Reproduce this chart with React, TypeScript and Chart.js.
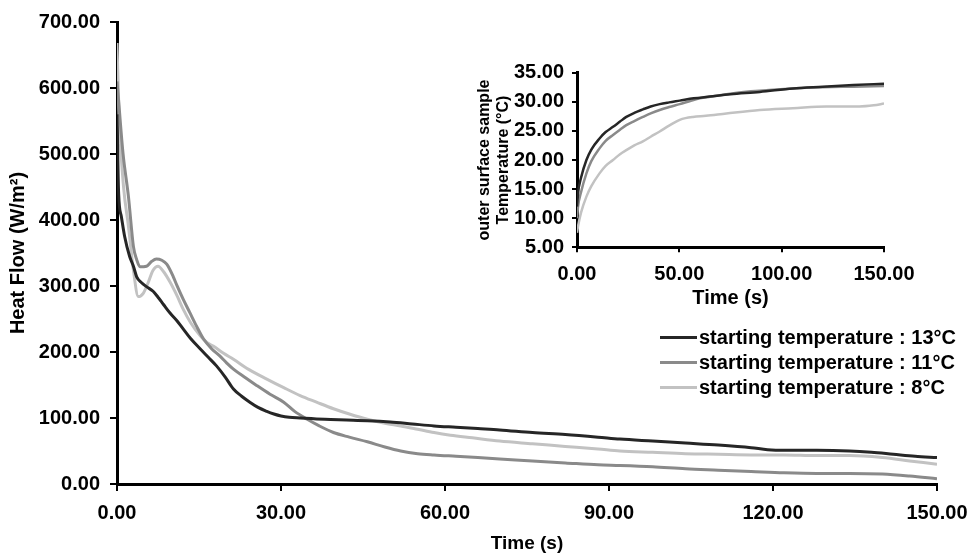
import React, { useEffect, useRef } from "react";
import { Chart, registerables } from "chart.js";

Chart.register(...registerables);

// ---------- Data ----------
const SERIES_LABELS = [
  "starting temperature : 13°C",
  "starting temperature : 11°C",
  "starting temperature : 8°C",
];
const SERIES_COLORS = ["#262626", "#8a8a8a", "#c2c2c2"];

// Main chart: heat flow (W/m²) vs time (s)
const HF13_T = [0, 0.3, 0.8, 1.4, 2.3, 3.0, 3.6, 4.5, 5.4, 6.6, 7.5, 8.5, 9.7, 11, 12.1, 13.5, 15.2, 16.7, 18.2, 19.8, 21.3, 22.8, 24.3, 25.8, 27.4, 28.7, 30, 31.5, 33.5, 38, 42, 45.8, 50, 54, 58, 62, 66, 70, 76, 82, 88, 92, 98, 104, 110, 116, 119, 122, 128, 134, 138, 142, 146, 150];
const HF13_V = [560, 440, 405, 375, 345, 330, 314, 305, 299, 292, 283, 272, 259, 247, 235, 220, 205, 192, 179, 162, 144, 133, 124, 116, 110, 106, 103, 101, 100, 98, 97, 96, 94, 91, 88, 86, 84, 82, 78, 75, 71, 68, 65, 62, 59, 55, 52, 51, 51, 50, 48, 45, 42, 40];

const HF11_T = [0, 0.3, 1.1, 2.1, 3.0, 3.6, 4.2, 5.4, 6.3, 7.2, 8.2, 9.1, 10.3, 10.9, 12.1, 13.3, 14.5, 15.8, 17.3, 18.8, 20, 21.3, 23.5, 25.6, 28, 30.5, 32.5, 34.8, 37, 39.6, 42.5, 45.8, 49, 51.9, 55, 58, 62, 66, 70, 76, 82, 88, 92, 98, 104, 110, 116, 122, 128, 134, 140, 145, 150];
const HF11_V = [610, 580, 501, 435, 360, 340, 329, 330, 337, 341, 339, 333, 314, 302, 280, 260, 240, 220, 205, 194, 184, 174, 161, 149, 136, 124, 110, 98, 88, 78, 71, 64, 56, 50, 46, 44, 42, 40, 38, 35, 32, 29, 28, 26, 23, 21, 19, 17, 16, 16, 15, 12, 8];

const HF8_T = [0, 0.4, 1.2, 2.1, 3.0, 3.9, 4.8, 5.6, 6.6, 7.5, 8.5, 9.7, 11, 12.1, 13.5, 15.2, 16.5, 17.6, 19.5, 21.3, 24, 27.4, 30.5, 33.5, 36.5, 39.6, 42.5, 45.8, 49, 51.9, 55, 58, 61, 65, 70, 76, 82, 88, 92, 98, 104, 110, 116, 122, 128, 134, 140, 145, 150];
const HF8_V = [668, 552, 450, 390, 324, 284, 289, 303, 324, 330, 322, 306, 285, 265, 244, 225, 214, 209, 198, 189, 174, 159, 146, 134, 124, 114, 106, 98, 92, 88, 83, 78, 74, 70, 65, 61, 57, 53, 50, 48, 46, 45, 44, 44, 43, 43, 40, 35, 30];

const HEAT_TICKS = [0, 100, 200, 300, 400, 500, 600, 700];
const TIME_TICKS = [0, 30, 60, 90, 120, 150];

// Inset: outer surface sample temperature (°C) vs time (s)
const T13_T = [0, 0.5, 2, 4.6, 7, 11, 14, 17.6, 21, 24.1, 28, 32.2, 36, 40.4, 45, 50.2, 57, 64.8, 75, 89.3, 105.5, 120, 135, 150];
const T13_V = [12, 14.3, 17, 20.0, 21.8, 23.7, 24.8, 25.7, 26.6, 27.4, 28.1, 28.7, 29.2, 29.6, 29.9, 30.2, 30.6, 30.9, 31.3, 31.7, 32.3, 32.6, 32.9, 33.1];

const T11_T = [0, 0.5, 2, 4.6, 7, 11, 14, 17.6, 21, 24.1, 28, 32.2, 36, 40.4, 45, 50.2, 55, 60, 66, 73, 85, 105.5, 120, 135, 150];
const T11_V = [10, 12.0, 14.5, 17.7, 19.8, 22.0, 23.3, 24.3, 25.2, 26.0, 26.7, 27.4, 28.0, 28.6, 29.1, 29.6, 30.1, 30.6, 30.9, 31.3, 31.8, 32.3, 32.5, 32.6, 32.7];

const T8_T = [0, 0.5, 2, 4.6, 7, 11, 14, 17.6, 21, 24.1, 28, 32.2, 36, 40.4, 45, 50.2, 53, 56.7, 63, 73, 89.3, 105.5, 121.8, 138, 145, 150];
const T8_V = [7.5, 8.6, 11, 13.7, 15.5, 17.7, 19.0, 20.0, 21.0, 21.7, 22.5, 23.2, 24.0, 24.9, 25.9, 26.9, 27.2, 27.4, 27.6, 28.0, 28.6, 28.9, 29.2, 29.2, 29.4, 29.7];

const TEMP_TICKS = [5, 10, 15, 20, 25, 30, 35];
const INSET_TIME_TICKS = [0, 50, 100, 150];

// ---------- Helpers ----------
const FONT = '"Liberation Sans", Arial, Helvetica, sans-serif';
const pts = (t: number[], v: number[]) => t.map((x, i) => ({ x, y: v[i] }));
const fmt = (v: any) => Number(v).toFixed(2);

function makeDatasets(pairs: [number[], number[]][], width: number) {
  return pairs.map(([t, v], i) => ({
    label: SERIES_LABELS[i],
    data: pts(t, v),
    borderColor: SERIES_COLORS[i],
    backgroundColor: SERIES_COLORS[i],
    borderWidth: width,
    pointRadius: 0,
    cubicInterpolationMode: "monotone" as const,
    fill: false,
  }));
}

function axis(opts: {
  min: number; max: number; ticks: number[]; tickLen: number; pad: number;
  title: string | string[]; titleSize: number; titlePad: any; afterFit: (s: any) => void;
}) {
  return {
    type: "linear" as const,
    min: opts.min,
    max: opts.max,
    afterBuildTicks: (s: any) => { s.ticks = opts.ticks.map((value) => ({ value })); },
    afterFit: opts.afterFit,
    ticks: {
      callback: fmt,
      color: "#000",
      font: { family: FONT, size: 20, weight: "bold" as const },
      padding: opts.pad,
      maxRotation: 0,
      autoSkip: false,
    },
    grid: { drawOnChartArea: false, drawTicks: true, tickLength: opts.tickLen, color: "#000", lineWidth: 2 },
    border: { color: "#000", width: 3 },
    title: {
      display: true,
      text: opts.title,
      color: "#000",
      font: { family: FONT, size: opts.titleSize, weight: "bold" as const, lineHeight: 1.2 },
      padding: opts.titlePad,
    },
  };
}

export default function App() {
  const mainRef = useRef<HTMLCanvasElement>(null);
  const insetRef = useRef<HTMLCanvasElement>(null);

  useEffect(() => {
    const main = new Chart(mainRef.current!, {
      type: "line",
      data: {
        datasets: makeDatasets([[HF13_T, HF13_V], [HF11_T, HF11_V], [HF8_T, HF8_V]], 3),
      },
      options: {
        responsive: false,
        animation: false,
        layout: { padding: { left: 0, top: 22, right: 31, bottom: 0 } },
        plugins: { legend: { display: false }, tooltip: { enabled: false } },
        scales: {
          x: axis({
            min: 0, max: 150, ticks: TIME_TICKS, tickLen: 7, pad: 10,
            title: "Time (s)", titleSize: 19, titlePad: { top: 0, bottom: 0 },
            afterFit: (s: any) => { s.height = 71; s.paddingLeft = 0; s.paddingRight = 0; },
          }),
          y: axis({
            min: 0, max: 700, ticks: HEAT_TICKS, tickLen: 7, pad: 10,
            title: "Heat Flow (W/m²)", titleSize: 20, titlePad: { top: 6, bottom: 0 },
            afterFit: (s: any) => { s.width = 117; s.paddingTop = 0; s.paddingBottom = 0; },
          }),
        },
      },
    });

    const inset = new Chart(insetRef.current!, {
      type: "line",
      data: {
        datasets: makeDatasets([[T13_T, T13_V], [T11_T, T11_V], [T8_T, T8_V]], 2.5),
      },
      options: {
        responsive: false,
        animation: false,
        layout: { padding: { left: 0, top: 22.7, right: 56, bottom: 0 } },
        plugins: { legend: { display: false }, tooltip: { enabled: false } },
        scales: {
          x: axis({
            min: 0, max: 150, ticks: INSET_TIME_TICKS, tickLen: 5, pad: 10,
            title: "Time (s)", titleSize: 20, titlePad: { top: 0, bottom: 10 },
            afterFit: (s: any) => { s.height = 72.7; s.paddingLeft = 0; s.paddingRight = 0; },
          }),
          y: axis({
            min: 5, max: 35, ticks: TEMP_TICKS, tickLen: 5, pad: 8,
            title: ["outer surface sample", "Temperature (°C)"], titleSize: 16, titlePad: { top: 15, bottom: 0 },
            afterFit: (s: any) => { s.width = 117; s.paddingTop = 0; s.paddingBottom = 0; },
          }),
        },
      },
    });

    return () => { main.destroy(); inset.destroy(); };
  }, []);

  return (
    <div style={{ position: "absolute", left: 0, top: 0, width: 968, height: 555, background: "#fff", overflow: "hidden" }}>
      <canvas ref={mainRef} width={968} height={555} style={{ position: "absolute", left: 0, top: 0 }} />
      <canvas ref={insetRef} width={480} height={270} style={{ position: "absolute", left: 460, top: 50 }} />
      <div style={{ position: "absolute", left: 660, top: 324.5, fontFamily: FONT, fontWeight: "bold", fontSize: 20, color: "#000" }}>
        {SERIES_LABELS.map((lab, i) => (
          <div key={lab} style={{ display: "flex", alignItems: "center", height: 25, whiteSpace: "nowrap" }}>
            <span style={{ display: "inline-block", width: 37, height: 3, background: SERIES_COLORS[i], marginRight: 2 }} />
            <span>{lab}</span>
          </div>
        ))}
      </div>
    </div>
  );
}
